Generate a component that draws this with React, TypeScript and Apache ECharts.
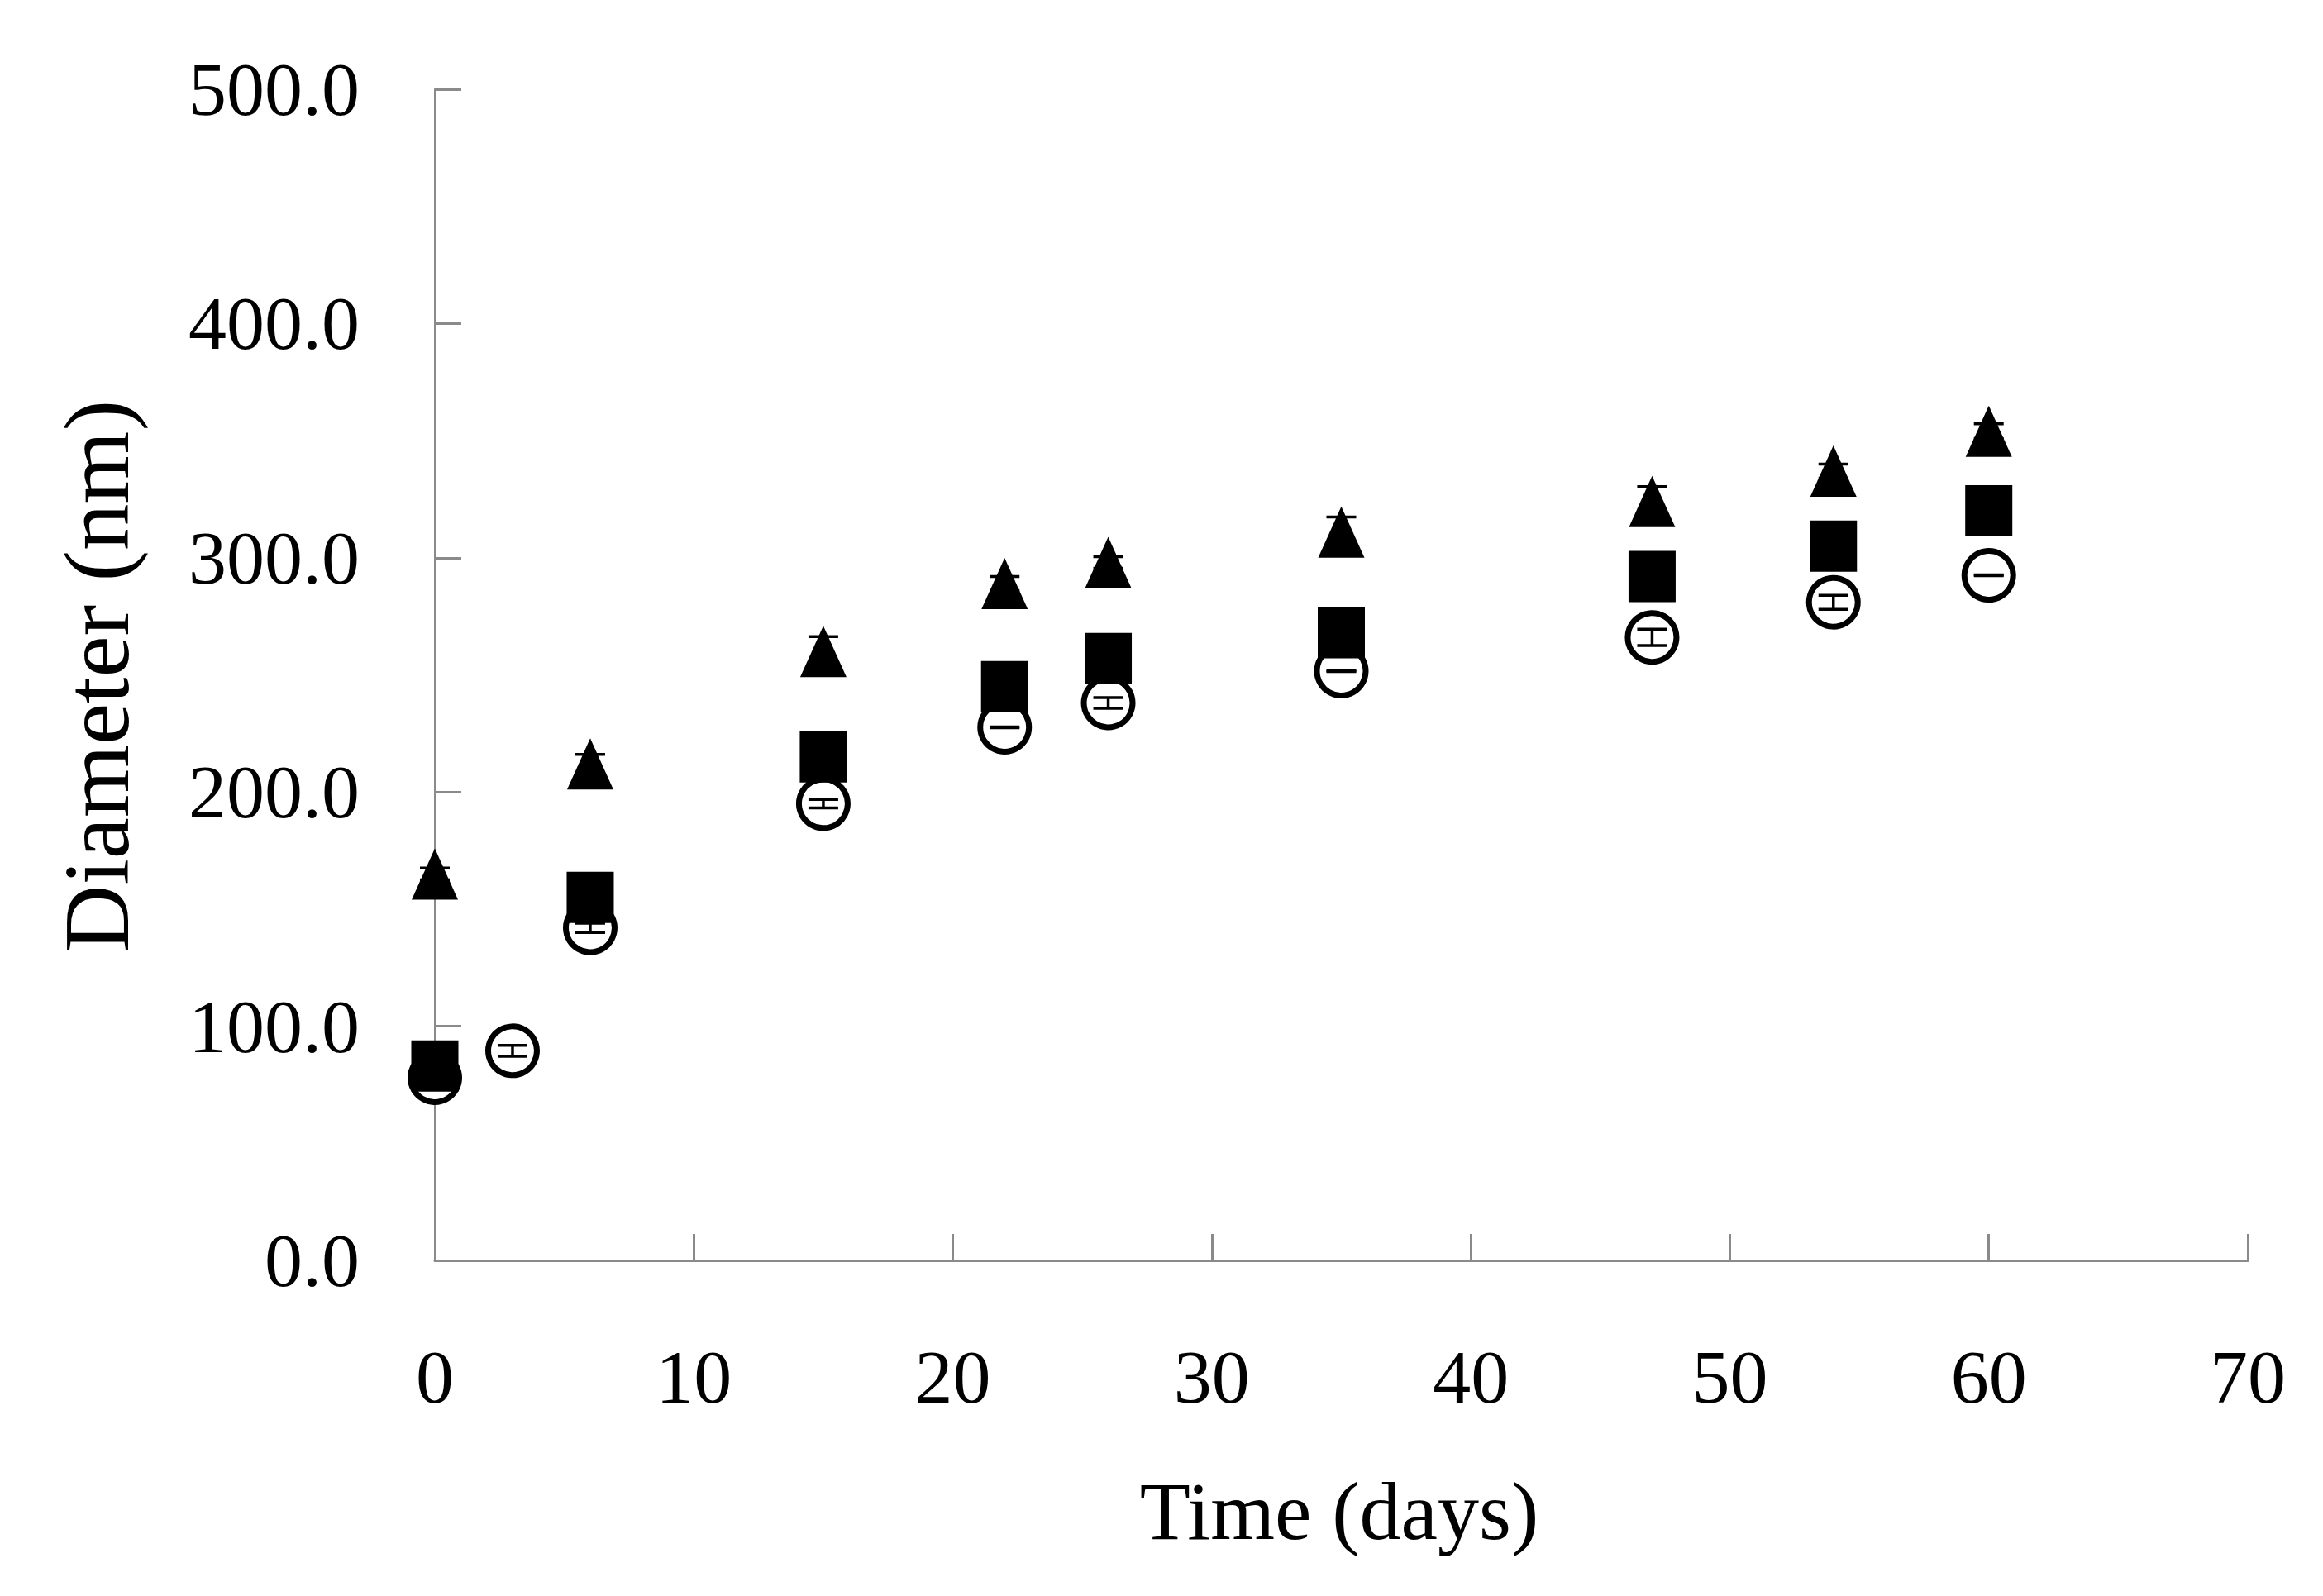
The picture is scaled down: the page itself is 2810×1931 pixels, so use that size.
import React, { useEffect, useRef } from "react";
import * as echarts from "echarts";

const daysMain = [0, 6, 15, 22, 26, 35, 47, 54, 60];
const triangleMean = [165, 212, 260, 289, 298, 311, 324, 337, 354];
const triangleErr = [2.5, 4, 6.3, 3, 2.5, 6.4, 6.4, 3, 3.2];
const squareMean = [83, 155, 215, 245, 257, 268, 292, 305, 320];
const squareErr = [3, 3, 3, 3, 3, 3, 3, 3, 3];
const daysCircle = [0, 3, 6, 15, 22, 26, 35, 47, 54, 60];
const circleMean = [78, 89.5, 142, 195, 227.6, 238, 251.6, 266, 281, 292.5];
const circleErr = [2, 2.3, 2, 1.8, 0.2, 2.3, 0.2, 3.5, 3, 0.2];

const xTicks = { min: 0, max: 70, interval: 10 };
const yTicks = { min: 0, max: 500, interval: 100 };

const FONT = "'Liberation Serif', 'DejaVu Serif', serif";

function errSeries(name: string, xs: number[], ys: number[], es: number[], z: number) {
  return {
    name,
    type: "custom",
    z,
    data: xs.map((x, i) => [x, ys[i], es[i]]),
    encode: { x: 0, y: 1 },
    renderItem: (params: any, api: any) => {
      const x = api.value(0);
      const y = api.value(1);
      const e = api.value(2);
      const top = api.coord([x, y + e]);
      const bot = api.coord([x, y - e]);
      const hw = 18;
      const style = { stroke: "#000", lineWidth: 3.5 };
      return {
        type: "group",
        children: [
          { type: "line", shape: { x1: top[0], y1: top[1], x2: bot[0], y2: bot[1] }, style },
          { type: "line", shape: { x1: top[0] - hw, y1: top[1], x2: top[0] + hw, y2: top[1] }, style },
          { type: "line", shape: { x1: bot[0] - hw, y1: bot[1], x2: bot[0] + hw, y2: bot[1] }, style },
        ],
      };
    },
  };
}

export default function App() {
  const ref = useRef<HTMLDivElement>(null);
  useEffect(() => {
    if (!ref.current) return;
    const chart = echarts.init(ref.current, undefined, { renderer: "svg" });
    const axisLine = { show: true, lineStyle: { color: "#8a8a8a", width: 3 } };
    chart.setOption({
      animation: false,
      backgroundColor: "#ffffff",
      grid: { left: 526, top: 108, right: 91, bottom: 406, containLabel: false },
      xAxis: {
        type: "value",
        ...xTicks,
        axisLine,
        axisTick: { show: true, inside: true, length: 32, lineStyle: { color: "#8a8a8a", width: 3 } },
        splitLine: { show: false },
        axisLabel: { fontFamily: FONT, fontSize: 92, color: "#000", margin: 95 },
      },
      yAxis: {
        type: "value",
        ...yTicks,
        axisLine,
        axisTick: { show: true, inside: true, length: 32, lineStyle: { color: "#8a8a8a", width: 3 } },
        splitLine: { show: false },
        axisLabel: {
          fontFamily: FONT,
          fontSize: 92,
          color: "#000",
          margin: 91,
          formatter: (v: number) => v.toFixed(1),
        },
      },
      graphic: [
        {
          type: "text",
          x: 1620,
          y: 1828,
          style: {
            text: "Time (days)",
            fontFamily: FONT,
            fontSize: 100,
            fill: "#000",
            textAlign: "center",
            textVerticalAlign: "middle",
          },
        },
        {
          type: "text",
          x: 116,
          y: 818,
          rotation: Math.PI / 2,
          style: {
            text: "Diameter (nm)",
            fontFamily: FONT,
            fontSize: 113,
            fill: "#000",
            textAlign: "center",
            textVerticalAlign: "middle",
          },
        },
      ],
      series: [
        {
          name: "circle",
          type: "scatter",
          z: 2,
          symbol: "circle",
          symbolSize: 59,
          itemStyle: { color: "#fff", borderColor: "#000", borderWidth: 7, opacity: 1 },
          data: daysCircle.map((x, i) => [x, circleMean[i]]),
        },
        errSeries("circleErr", daysCircle, circleMean, circleErr, 3),
        errSeries("squareErr", daysMain, squareMean, squareErr, 4),
        {
          name: "square",
          type: "scatter",
          z: 5,
          symbol: "rect",
          symbolSize: [57, 62],
          itemStyle: { color: "#000", opacity: 1 },
          data: daysMain.map((x, i) => [x, squareMean[i]]),
        },
        errSeries("triangleErr", daysMain, triangleMean, triangleErr, 6),
        {
          name: "triangle",
          type: "scatter",
          z: 7,
          symbol: "triangle",
          symbolSize: [56, 62],
          itemStyle: { color: "#000", opacity: 1 },
          data: daysMain.map((x, i) => [x, triangleMean[i]]),
        },
      ],
    });
    return () => chart.dispose();
  }, []);
  return (
    <div
      ref={ref}
      style={{ position: "fixed", left: 0, top: 0, width: 2810, height: 1931, background: "#fff" }}
    />
  );
}
